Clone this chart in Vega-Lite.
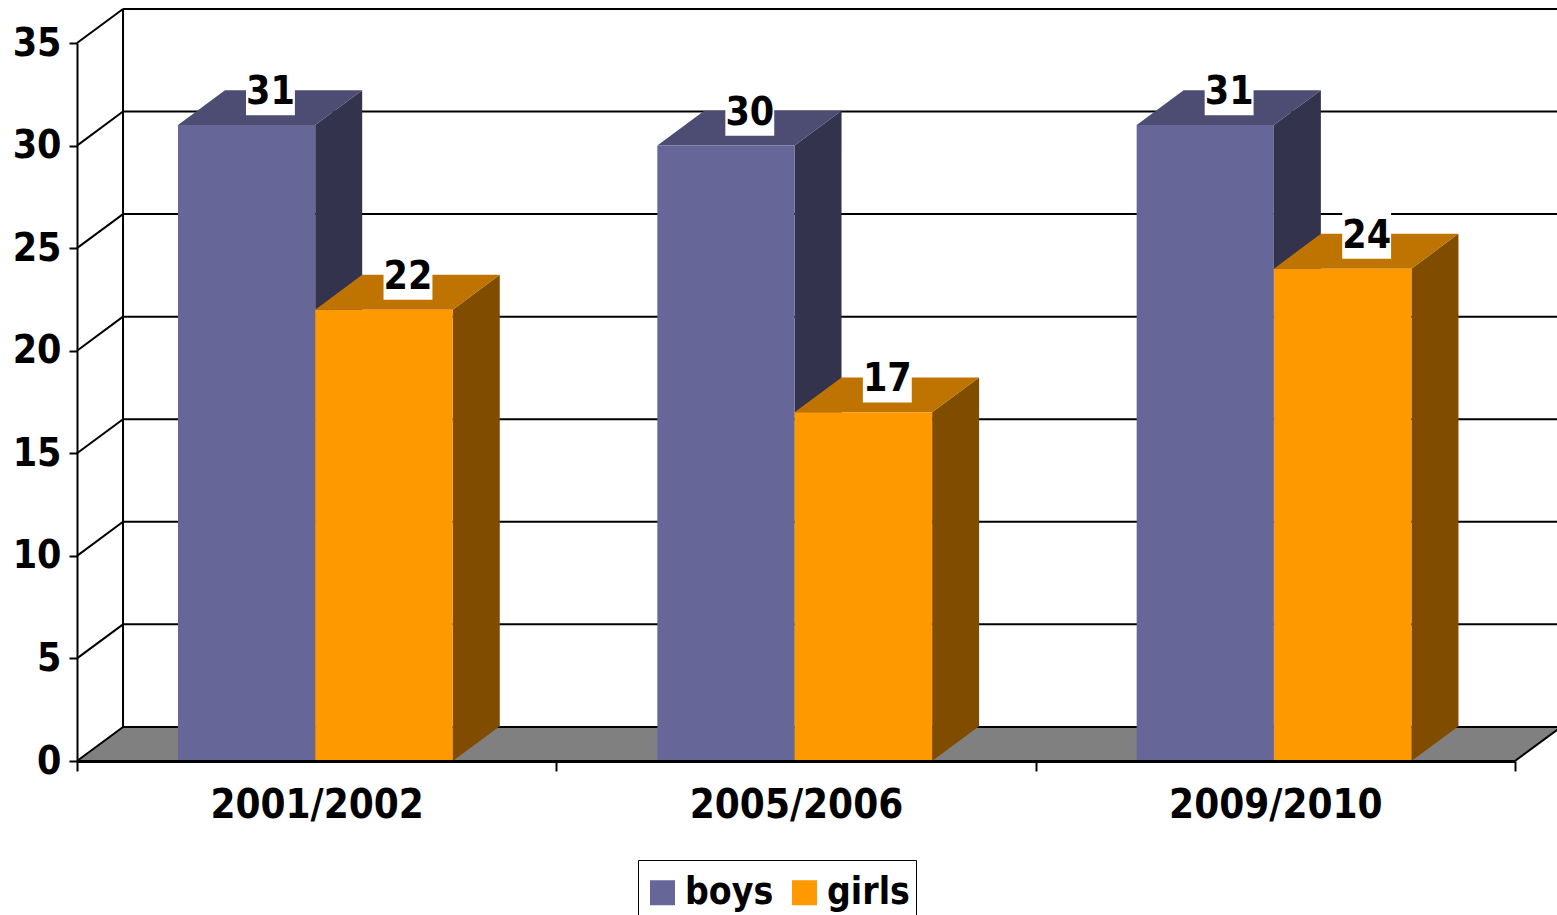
{
"$schema":"https://vega.github.io/schema/vega-lite/v6.json",
"autosize":"none",
"padding":{"left":77,"top":43,"right":42,"bottom":154},
"width":1438,
"height":718,
"background":"white",
"config":{"view":{"stroke":null},"text":{"font":"DejaVu Sans Condensed"}},
"data":{"values":[
{"period":"2001/2002","sex":"boys","value":31},
{"period":"2001/2002","sex":"girls","value":22},
{"period":"2005/2006","sex":"boys","value":30},
{"period":"2005/2006","sex":"girls","value":17},
{"period":"2009/2010","sex":"boys","value":31},
{"period":"2009/2010","sex":"girls","value":24}
]},
"datasets":{"ticks":[{"tick":0},{"tick":5},{"tick":10},{"tick":15},{"tick":20},{"tick":25},{"tick":30},{"tick":35}]},
"encoding":{
"x":{"field":"x","type":"quantitative","scale":{"domain":[0,3],"nice":false,"zero":false},
"axis":{"title":null,"orient":"bottom","zindex":1,"values":[0,0.5,1,1.5,2,2.5,3],
"labelExpr":"datum.value==0.5?'2001/2002':datum.value==1.5?'2005/2006':datum.value==2.5?'2009/2010':''",
"tickSize":10,"tickWidth":{"condition":{"test":"datum.value%1==0","value":2},"value":0},"tickColor":"black",
"domainColor":"black","domainWidth":3,"labelFont":"DejaVu Sans Condensed","labelFontWeight":"bold","labelFontSize":40,"labelColor":"black","labelPadding":14,"labelAngle":0,"labelOverlap":false,"labelBound":false,"labelFlush":false,"labelLimit":400,"grid":false}},
"y":{"field":"y","type":"quantitative","stack":null,"scale":{"domain":[0,35],"nice":false,"zero":false},
"axis":{"title":null,"orient":"left","zindex":1,"values":[0,5,10,15,20,25,30,35],"tickSize":8,"tickWidth":2,"tickColor":"black","domainColor":"black","domainWidth":2,
"labelFont":"DejaVu Sans Condensed","labelFontWeight":"bold","labelFontSize":39,"labelColor":"black","labelPadding":8,"grid":false}}
},
"layer":[
{"data":{"name":"ticks"},
"transform":[{"filter":"datum.tick==0"},{"calculate":"[0,0.096,3,3.096]","as":"x"},{"calculate":"[0,0,0,1.66]","as":"y"},{"calculate":"[0,1.66,1.66,1.66]","as":"y2"},{"flatten":["x","y","y2"]}],
"mark":{"type":"area","fill":"#808080","clip":false},
"encoding":{"y2":{"field":"y2"}}},
{"data":{"name":"ticks"},
"transform":[{"calculate":"0.096","as":"x"},{"calculate":"3.096","as":"x2"},{"calculate":"datum.tick+1.66","as":"y"}],
"mark":{"type":"rule","color":"black","strokeWidth":2},
"encoding":{"x2":{"field":"x2"}}},
{"data":{"name":"ticks"},
"transform":[{"calculate":"0","as":"x"},{"calculate":"0.096","as":"x2"},{"calculate":"datum.tick","as":"y"},{"calculate":"datum.tick+1.66","as":"y2"}],
"mark":{"type":"rule","color":"black","strokeWidth":2},
"encoding":{"x2":{"field":"x2"},"y2":{"field":"y2"}}},
{"data":{"name":"ticks"},
"transform":[{"filter":"datum.tick==0"},{"calculate":"3","as":"x"},{"calculate":"3.096","as":"x2"},{"calculate":"0","as":"y"},{"calculate":"1.66","as":"y2"}],
"mark":{"type":"rule","color":"black","strokeWidth":2},
"encoding":{"x2":{"field":"x2"},"y2":{"field":"y2"}}},
{"data":{"name":"ticks"},
"transform":[{"filter":"datum.tick==35"},{"calculate":"0.096","as":"x"},{"calculate":"1.66","as":"y"},{"calculate":"36.66","as":"y2"}],
"mark":{"type":"rule","color":"black","strokeWidth":2},
"encoding":{"y2":{"field":"y2"}}},
{"transform":[
{"calculate":"indexof(['2001/2002','2005/2006','2009/2010'],datum.period)","as":"idx"},
{"calculate":"datum.idx+(datum.sex=='boys'?0.497:0.784)","as":"r"},
{"calculate":"[datum.r,datum.r+0.098]","as":"x"},
{"calculate":"[datum.value,datum.value+1.7]","as":"y"},
{"calculate":"[0,1.7]","as":"y2"},
{"flatten":["x","y","y2"]}],
"mark":{"type":"area"},
"encoding":{"y2":{"field":"y2"},"detail":{"field":"period"},
"color":{"field":"sex","type":"nominal","legend":null,"scale":{"domain":["boys","girls"],"range":["#33334d","#804d00"]}}}},
{"transform":[
{"calculate":"indexof(['2001/2002','2005/2006','2009/2010'],datum.period)","as":"idx"},
{"calculate":"datum.idx+(datum.sex=='boys'?0.2107:0.497)","as":"l"},
{"calculate":"datum.idx+(datum.sex=='boys'?0.497:0.784)","as":"r"},
{"calculate":"[datum.l,datum.l+0.098,datum.r,datum.r+0.098]","as":"x"},
{"calculate":"[datum.value,datum.value,datum.value,datum.value+1.7]","as":"y"},
{"calculate":"[datum.value,datum.value+1.7,datum.value+1.7,datum.value+1.7]","as":"y2"},
{"flatten":["x","y","y2"]}],
"mark":{"type":"area"},
"encoding":{"y2":{"field":"y2"},"detail":{"field":"period"},
"color":{"field":"sex","type":"nominal","legend":null,"scale":{"domain":["boys","girls"],"range":["#4d4d73","#bf7300"]}}}},
{"transform":[
{"calculate":"indexof(['2001/2002','2005/2006','2009/2010'],datum.period)","as":"idx"},
{"calculate":"datum.idx+(datum.sex=='boys'?0.2107:0.497)","as":"x"},
{"calculate":"datum.idx+(datum.sex=='boys'?0.497:0.784)","as":"x2"},
{"calculate":"datum.value","as":"y"},
{"calculate":"0","as":"y2"}],
"mark":{"type":"rect"},
"encoding":{"x2":{"field":"x2"},"y2":{"field":"y2"},
"color":{"field":"sex","type":"nominal","scale":{"domain":["boys","girls"],"range":["#666699","#ff9900"]},
"legend":{"title":" ","titleFontSize":1,"titlePadding":7,"orient":"none","legendX":561,"legendY":817,"direction":"horizontal","symbolType":"square","symbolSize":625,"symbolStrokeWidth":0,"symbolOpacity":1,
"labelFont":"DejaVu Sans Condensed","labelFontWeight":"bold","labelFontSize":37,"labelColor":"black","labelOffset":4,"columnPadding":12,"padding":6,"strokeColor":"black","fillColor":"white","labelLimit":300}}}},
{"transform":[
{"calculate":"indexof(['2001/2002','2005/2006','2009/2010'],datum.period)","as":"idx"},
{"calculate":"datum.idx+(datum.sex=='boys'?0.3546:0.6415)+0.049","as":"c"},
{"calculate":"datum.c-0.051","as":"x"},
{"calculate":"datum.c+0.051","as":"x2"},
{"calculate":"datum.value+1.6-1.12","as":"y"},
{"calculate":"datum.value+1.6+1.12","as":"y2"}],
"mark":{"type":"rect","fill":"white"},
"encoding":{"x2":{"field":"x2"},"y2":{"field":"y2"}}},
{"transform":[
{"calculate":"indexof(['2001/2002','2005/2006','2009/2010'],datum.period)","as":"idx"},
{"calculate":"datum.idx+(datum.sex=='boys'?0.3546:0.6415)+0.049","as":"x"},
{"calculate":"datum.value+1.6","as":"y"}],
"mark":{"type":"text","font":"DejaVu Sans Condensed","fontWeight":"bold","fontSize":39,"color":"black","baseline":"middle","align":"center"},
"encoding":{"text":{"field":"value","type":"quantitative"}}}
],
"resolve":{"scale":{"color":"independent"}}
}
